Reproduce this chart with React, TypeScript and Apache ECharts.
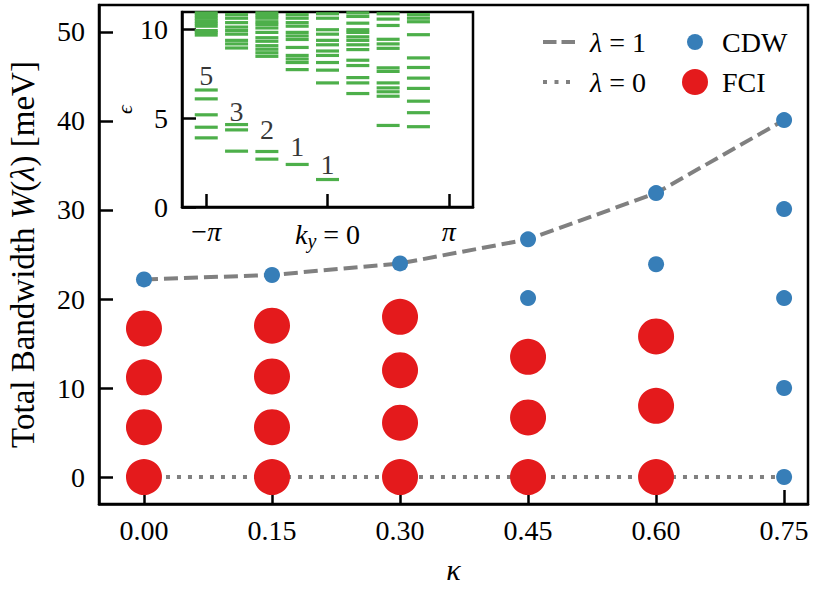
import React, { useEffect, useRef } from "react";
import * as echarts from "echarts";

const PI = Math.PI;
const FONT = "'Liberation Serif', 'DejaVu Serif', serif";

// main chart data
const kappa = [0, 0.15, 0.3, 0.45, 0.6, 0.75];
const lambda1 = [22.2, 22.7, 24.0, 26.7, 31.9, 40.1];
const lambda0 = [0, 0, 0, 0, 0, 0];
const cdwPoints: [number, number][] = [
  [0, 22.2], [0.15, 22.7], [0.3, 24.0], [0.45, 26.7], [0.45, 20.1],
  [0.6, 31.9], [0.6, 23.9], [0.75, 40.1], [0.75, 30.1], [0.75, 20.1],
  [0.75, 10.0], [0.75, 0],
];
const fciPoints: [number, number][] = [
  [0, 16.7], [0, 11.2], [0, 5.6], [0, 0],
  [0.15, 17.0], [0.15, 11.3], [0.15, 5.6], [0.15, 0],
  [0.3, 18.0], [0.3, 12.0], [0.3, 6.1], [0.3, 0],
  [0.45, 13.5], [0.45, 6.7], [0.45, 0],
  [0.6, 15.8], [0.6, 8.0], [0.6, 0],
];
const yTicks = [0, 10, 20, 30, 40, 50];

// inset data: spectrum vs k_y
const kColumns = [-PI, -0.75 * PI, -0.5 * PI, -0.25 * PI, 0, 0.25 * PI, 0.5 * PI, 0.75 * PI];
const levels: number[][] = [
  [3.9, 4.5, 5.2, 6.1, 6.6, 9.7, 9.85, 9.95, 10.2, 10.35, 10.5, 10.65, 10.8, 10.95],
  [3.15, 4.35, 4.65, 8.97, 9.2, 9.4, 9.75, 9.95, 10.15, 10.4, 10.65, 10.85],
  [2.7, 3.13, 8.5, 8.7, 8.9, 9.1, 9.35, 9.55, 9.85, 10.1, 10.3, 10.45, 10.65, 10.8, 10.95],
  [2.4, 7.75, 8.15, 8.35, 8.55, 9.0, 9.45, 9.65, 9.85, 10.2, 10.4, 10.65, 10.85],
  [1.55, 7.0, 7.72, 8.15, 8.55, 8.8, 9.15, 9.4, 9.75, 10.0, 10.65, 10.9],
  [6.4, 7.0, 7.3, 7.98, 8.28, 8.88, 9.15, 9.4, 9.6, 9.85, 10.0, 10.37, 10.75, 10.95],
  [4.6, 6.25, 6.5, 6.72, 7.0, 7.65, 7.85, 8.95, 9.2, 9.46, 10.24, 10.6, 10.9],
  [4.53, 5.32, 5.97, 6.69, 7.27, 7.87, 8.41, 9.72, 10.45, 10.65, 10.85],
];
const insetTicks = [-PI, 0, PI];
const degK = [-PI, -0.75 * PI, -0.5 * PI, -0.25 * PI, 0];
const degE = [7.4, 5.4, 4.35, 3.4, 2.4];
const degText = ["5", "3", "2", "1", "1"];

export default function App() {
  const ref = useRef<HTMLDivElement>(null);
  useEffect(() => {
    if (!ref.current) return;
    document.body.style.margin = "0";
    const chart = echarts.init(ref.current, undefined, { renderer: "svg" });

    const levelData: [number, number][] = [];
    kColumns.forEach((k, i) => levels[i].forEach((e) => levelData.push([k, e])));

    const black = "#000";
    const gray = "#808080";
    const tickFs = 28;

    chart.setOption({
      animation: false,
      backgroundColor: "#fff",
      textStyle: { fontFamily: FONT },
      grid: [
        { left: 99, top: 5, right: 22, bottom: 89, outerBoundsMode: "none", containLabel: false, show: true, borderColor: black, borderWidth: 2.5, backgroundColor: "transparent" },
        { left: 182, top: 12, width: 291, height: 195, outerBoundsMode: "none", containLabel: false, show: true, borderColor: black, borderWidth: 2.5, backgroundColor: "#fff" },
      ],
      legend: [
        {
          data: [
            { name: "λ = 1", icon: "path://M0,0h13.5v4h-13.5zM18.5,0h13.5v4h-13.5z", itemStyle: { color: gray } },
            { name: "λ = 0", icon: "path://M0,0M32,4M0,0h4v4h-4zM11.5,0h4v4h-4zM23,0h4v4h-4z", itemStyle: { color: gray } },
          ],
          orient: "vertical",
          left: 543,
          top: 27,
          padding: 0,
          itemWidth: 32,
          itemHeight: 4,
          itemGap: 10,
          formatter: (n: string) => n.replace("λ", "{i|λ}"),
          textStyle: {
            fontFamily: FONT, fontSize: 28, color: black, lineHeight: 30, padding: [0, 0, 0, 10],
            rich: { i: { fontStyle: "italic", fontFamily: FONT, fontSize: 28, color: black } },
          },
        },
        {
          data: [
            { name: "CDW", icon: "path://M0,0M28,28M6,14a8,8 0 1,0 16,0a8,8 0 1,0 -16,0z" },
            { name: "FCI", icon: "path://M0,0M28,28M1,14a13,13 0 1,0 26,0a13,13 0 1,0 -26,0z" },
          ],
          orient: "vertical",
          left: 681,
          top: 27,
          padding: 0,
          itemWidth: 28,
          itemHeight: 28,
          itemGap: 10,
          textStyle: { fontFamily: FONT, fontSize: 28, color: black, lineHeight: 30, padding: [0, 0, 0, 8] },
        },
      ],
      xAxis: [
        {
          type: "value",
          gridIndex: 0,
          min: -0.0527,
          max: 0.778,
          splitLine: { show: false },
          axisLine: { show: true, onZero: false, lineStyle: { color: black, width: 2.5 } },
          axisTick: { show: true, inside: true, length: 14, lineStyle: { color: black, width: 2.5 }, customValues: kappa },
          axisLabel: { customValues: kappa, formatter: (v: number) => v.toFixed(2), fontSize: tickFs, color: black, margin: 12, fontFamily: FONT },
          name: "κ",
          nameLocation: "middle",
          nameGap: 50,
          nameTextStyle: { fontSize: 30, fontStyle: "italic", color: black, fontFamily: FONT },
        },
        {
          type: "value",
          gridIndex: 1,
          min: -1.2 * PI,
          max: 1.2 * PI,
          splitLine: { show: false },
          axisLine: { show: true, onZero: false, lineStyle: { color: black, width: 2.5 } },
          axisTick: { show: true, inside: true, length: 13, lineStyle: { color: black, width: 2.5 }, customValues: insetTicks },
          axisLabel: {
            customValues: insetTicks,
            fontSize: tickFs,
            color: black,
            margin: 10,
            fontFamily: FONT,
            formatter: (v: number) => (v < -1 ? "−{i|π}" : Math.abs(v) < 1e-6 ? "{i|k}{s|y} = 0" : "{i|π}"),
            rich: {
              i: { fontStyle: "italic", fontSize: tickFs, fontFamily: FONT, color: black },
              s: { fontStyle: "italic", fontSize: 20, fontFamily: FONT, color: black, padding: [14, 0, 0, 0] },
            },
          },
        },
      ],
      yAxis: [
        {
          type: "value",
          gridIndex: 0,
          min: -3.03,
          max: 53.03,
          splitLine: { show: false },
          axisLine: { show: true, onZero: false, lineStyle: { color: black, width: 2.5 } },
          axisTick: { show: true, inside: true, length: 14, lineStyle: { color: black, width: 2.5 }, customValues: yTicks },
          axisLabel: { customValues: yTicks, fontSize: tickFs, color: black, margin: 14, fontFamily: FONT },
          name: "Total Bandwidth {i|W}({i|λ}) [meV]",
          nameLocation: "middle",
          nameGap: 60,
          nameTextStyle: {
            fontSize: 33, color: black, fontFamily: FONT,
            rich: { i: { fontStyle: "italic", fontSize: 33, fontFamily: FONT, color: black } },
          },
        },
        {
          type: "value",
          gridIndex: 1,
          min: 0,
          max: 11,
          interval: 5,
          splitLine: { show: false },
          axisLine: { show: true, onZero: false, lineStyle: { color: black, width: 2.5 } },
          axisTick: { show: true, inside: true, length: 14, lineStyle: { color: black, width: 2.5 } },
          axisLabel: { fontSize: tickFs, color: black, margin: 14, fontFamily: FONT },
          name: "ϵ",
          nameLocation: "middle",
          nameGap: 47,
          nameRotate: 90,
          nameTextStyle: { fontSize: 22, fontStyle: "italic", color: black, fontFamily: FONT },
        },
      ],
      series: [
        {
          name: "λ = 0",
          type: "line",
          xAxisIndex: 0,
          yAxisIndex: 0,
          data: kappa.map((k, i) => [k, lambda0[i]]),
          symbol: "none",
          lineStyle: { color: gray, width: 4, type: [4, 7] },
          itemStyle: { color: gray },
          z: 1,
        },
        {
          name: "λ = 1",
          type: "line",
          xAxisIndex: 0,
          yAxisIndex: 0,
          data: kappa.map((k, i) => [k, lambda1[i]]),
          symbol: "none",
          lineStyle: { color: gray, width: 4, type: [14, 6] },
          itemStyle: { color: gray },
          z: 2,
        },
        {
          name: "FCI",
          type: "scatter",
          xAxisIndex: 0,
          yAxisIndex: 0,
          data: fciPoints,
          symbolSize: 36,
          itemStyle: { color: "#e41a1c", opacity: 1 },
          z: 3,
        },
        {
          name: "CDW",
          type: "scatter",
          xAxisIndex: 0,
          yAxisIndex: 0,
          data: cdwPoints,
          symbolSize: 16,
          itemStyle: { color: "#377eb8", opacity: 1 },
          z: 4,
        },
        {
          name: "levels",
          type: "scatter",
          xAxisIndex: 1,
          yAxisIndex: 1,
          data: levelData,
          symbol: "rect",
          symbolSize: [23, 3.2],
          itemStyle: { color: "#4daf4a", opacity: 1 },
          z: 5,
        },
        {
          name: "degeneracy",
          type: "scatter",
          xAxisIndex: 1,
          yAxisIndex: 1,
          data: degK.map((k, i) => ({ value: [k, degE[i]], name: degText[i] })),
          symbolSize: 0,
          label: { show: true, position: "inside", formatter: "{b}", fontSize: 28, color: black, fontFamily: FONT },
          z: 6,
        },
      ],
    });
    return () => chart.dispose();
  }, []);
  return <div ref={ref} style={{ width: 830, height: 593 }} />;
}
